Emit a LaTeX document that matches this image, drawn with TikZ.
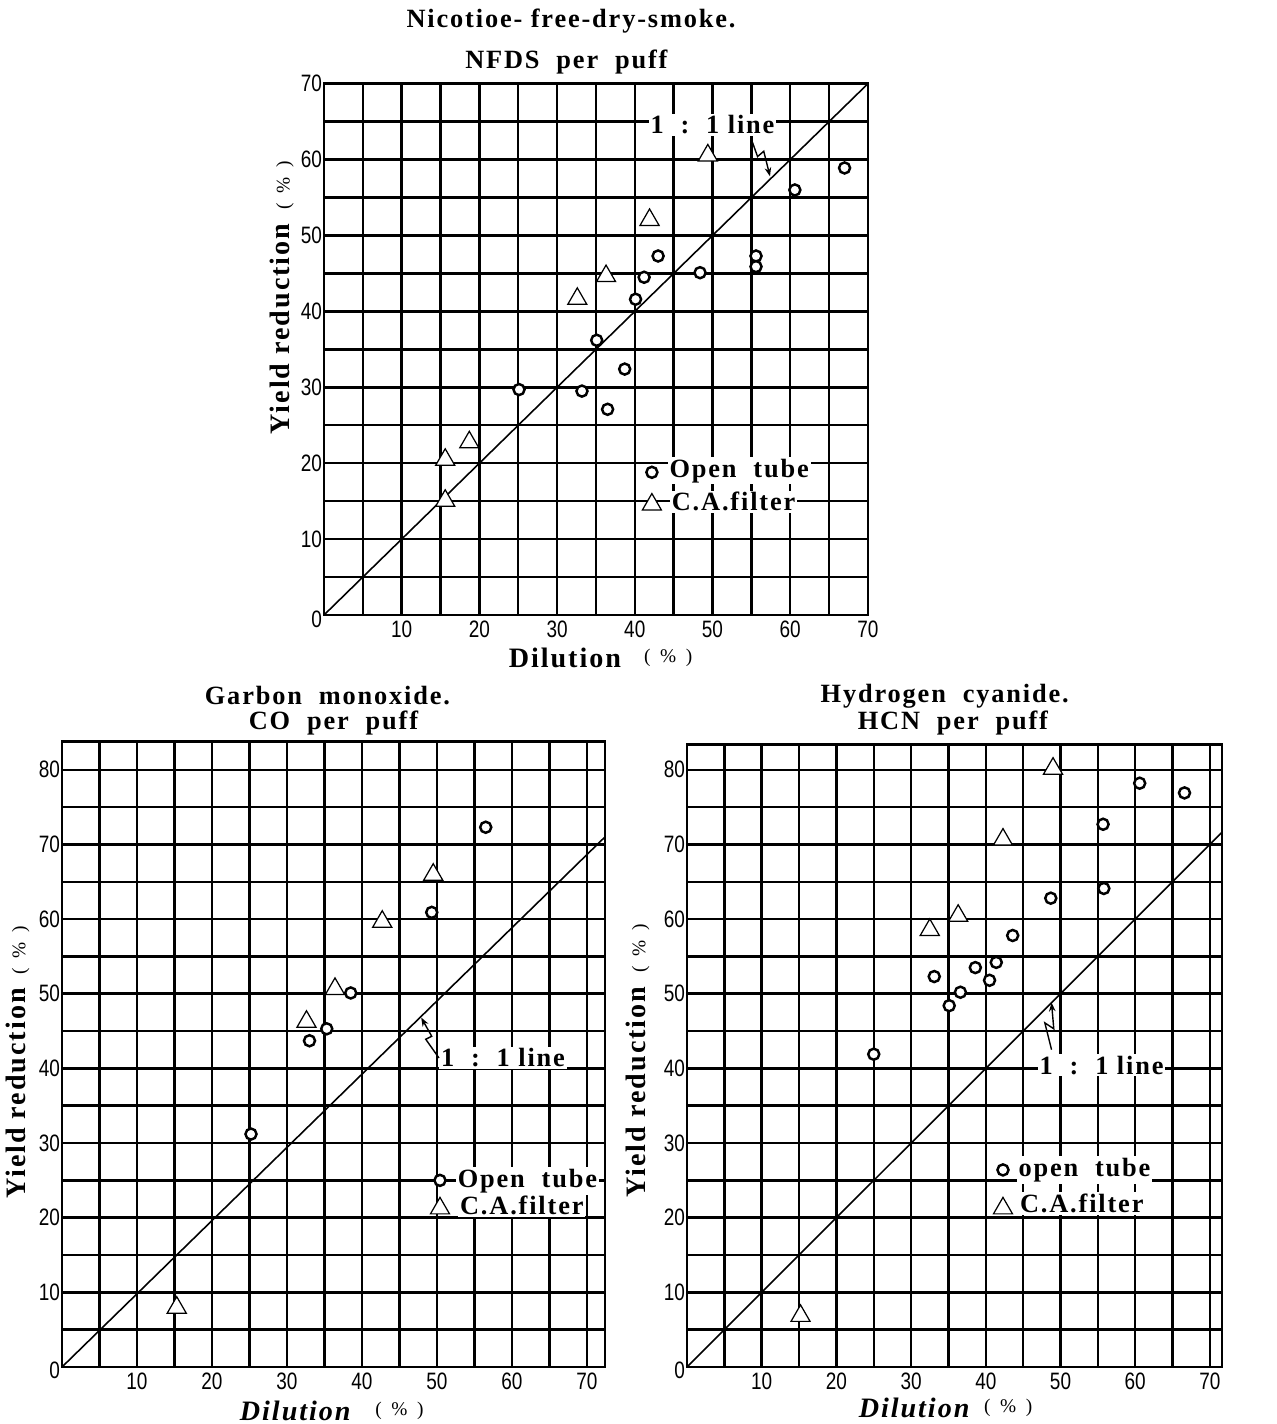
\documentclass[tikz,border=0pt]{standalone}
\usepackage{fontspec}
\setmainfont{Liberation Serif}
\newfontfamily\tickfont[FakeStretch=0.8]{Liberation Sans}
\newfontfamily\lblfont[LetterSpace=7]{Liberation Serif}
\usetikzlibrary{shapes.geometric,arrows.meta}

\tikzset{
  gridline/.style={black, line width=1.4pt},
  oneline/.style={black, line width=0.9pt},
  opentube/.style={circle, draw, line width=1.4pt, fill=white, inner sep=0pt, minimum size=6.3pt},
  cafilter/.style={regular polygon, regular polygon sides=3, draw, line width=0.7pt, fill=white, inner sep=0pt, minimum size=0.44cm, yshift=-1.5pt},
  tick/.style={font=\tickfont\fontsize{13.5}{14}\selectfont, inner sep=1pt},
  lbl/.style={font=\lblfont\bfseries\fontsize{15}{17}\selectfont, fill=white, inner sep=1pt},
  ttl/.style={font=\lblfont\bfseries\fontsize{15}{17}\selectfont, inner sep=0pt},
  axlbl/.style={font=\lblfont\bfseries\fontsize{16}{18}\selectfont, inner sep=0pt},
  pct/.style={font=\fontsize{11}{12}\selectfont, inner sep=0pt},
  zig/.style={line width=0.8pt, -{Stealth[length=5pt]}}
}

\begin{document}
\begin{tikzpicture}
\useasboundingbox (0,0) rectangle (25.54,28.48);

% NFDS per puff
\begin{scope}[shift={(6.48,16.18)}, xscale=0.1554, yscale=0.1518]
\foreach \g in {5,10,...,65} {
  \draw[gridline] (\g,0) -- (\g,70);
  \draw[gridline] (0,\g) -- (70,\g);
}
\draw[gridline] (0,0) rectangle (70,70);
\draw[oneline] (0,0) -- (70,70);
\node[tick, anchor=east] (ay0) at (0,-0.6) {0};
\foreach \v in {10,20,...,70} {
  \node[tick, anchor=east] (ay\v) at (0,\v) {\v};
  \node[tick, anchor=north] (ax\v) at (\v,-0.5) {\v};
}
\node[ttl] (at1) at (31.8,78.3) {Nicotioe- free-dry-smoke.};
\node[ttl] (at2) at (31.2,72.8) {NFDS\ \ per\ \ puff};
\node[axlbl] (axl) at (31.0,-5.6) {Dilution};
\node[pct] (axp) at (44.3,-5.6) {(\ \ \%\ \ )};
\node[axlbl, rotate=90] (ayl) at (-5.4,41.8) {Yield reduction\enspace{\normalfont\fontsize{11}{12}\selectfont(\ \ \%\ \ )}};
% 1:1 line label
\node[lbl] (ar) at (50.0,64.6) {1\ \ :\ \ 1 line};
\coordinate (artip) at (57.4,57.8);
\draw[zig] (55.1,62.4) -- (55.8,60.4) -- (56.6,61.1) -- (artip);
% legend
\node[lbl, anchor=west] (ak1) at (44.2,19.0) {Open\ \ tube};
\node[lbl, anchor=west] (ak2) at (44.5,14.9) {C.A.filter};
\node[opentube] (ako) at (42.2,18.8) {};
\node[cafilter] (akt) at (42.2,14.9) {};
% data
\foreach \x/\y [count=\i] in {25.1/29.7, 33.2/29.5, 36.5/27.1, 35.1/36.2, 38.7/32.4,
  40.1/41.6, 41.2/44.5, 43.0/47.3, 48.4/45.1, 55.6/47.3, 55.6/45.9, 60.6/56.0, 67.0/58.9}
  \node[opentube] (ao\i) at (\x,\y) {};
\foreach \x/\y [count=\i] in {15.6/15.4, 15.6/20.8, 18.7/23.1, 32.6/42.0, 36.3/45.0,
  41.9/52.4, 49.4/60.9}
  \node[cafilter] (at\i) at (\x,\y) {};
\end{scope}

% CO per puff
\begin{scope}[shift={(1.24,1.14)}, xscale=0.15, yscale=0.1493]
\foreach \g in {5,10,...,70} \draw[gridline] (\g,0) -- (\g,83.8);
\foreach \g in {5,10,...,80} \draw[gridline] (0,\g) -- (72.4,\g);
\draw[gridline] (0,0) rectangle (72.4,83.8);
\draw[oneline] (0,0) -- (72.4,71);
\node[tick, anchor=east] (by0) at (0,-0.4) {0};
\foreach \v in {10,20,...,80} \node[tick, anchor=east] (by\v) at (0,\v) {\v};
\foreach \v in {10,20,...,70} \node[tick, anchor=north] (bx\v) at (\v,-0.5) {\v};
\node[ttl] (bt1) at (35.4,90.0) {Garbon\ \ monoxide.};
\node[ttl] (bt2) at (36.2,86.2) {CO\ \ per\ \ puff};
\node[axlbl, font=\lblfont\bfseries\itshape\fontsize{16}{18}\selectfont] (bxl) at (31.1,-5.9) {Dilution};
\node[pct] (bxp) at (45.0,-5.9) {(\ \ \%\ \ )};
\node[axlbl, rotate=90] (byl) at (-5.9,40.8) {Yield reduction\enspace{\normalfont\fontsize{11}{12}\selectfont(\ \ \%\ \ )}};
% 1:1 line label
\node[lbl] (br) at (58.8,41.4) {1\ \ :\ \ 1 line};
\coordinate (brtip) at (47.9,46.8);
\draw[zig] (br.west) -- (48.5,43.9) -- (49.3,44.3) -- (brtip);
% legend
\node[lbl, anchor=west] (bk1) at (52.5,24.9) {Open\ \ tube};
\node[lbl, anchor=west] (bk2) at (52.8,21.6) {C.A.filter};
\node[opentube] (bko) at (50.4,25.0) {};
\node[cafilter] (bkt) at (50.4,21.6) {};
% data
\foreach \x/\y [count=\i] in {25.2/31.2, 33.0/43.7, 35.3/45.3, 38.5/50.1, 49.3/60.9, 56.5/72.3}
  \node[opentube] (bo\i) at (\x,\y) {};
\foreach \x/\y [count=\i] in {15.3/8.3, 32.6/46.6, 36.4/51.0, 42.7/60.0, 49.5/66.3}
  \node[cafilter] (bt\i) at (\x,\y) {};
\end{scope}

% HCN per puff
\begin{scope}[shift={(13.74,1.14)}, xscale=0.1494, yscale=0.1493]
\foreach \g in {5,10,...,70} \draw[gridline] (\g,0) -- (\g,83.4);
\foreach \g in {5,10,...,80} \draw[gridline] (0,\g) -- (71.6,\g);
\draw[gridline] (0,0) rectangle (71.6,83.4);
\draw[oneline] (0,0) -- (71.6,71.6);
\node[tick, anchor=east] (cy0) at (0,-0.4) {0};
\foreach \v in {10,20,...,80} \node[tick, anchor=east] (cy\v) at (0,\v) {\v};
\foreach \v in {10,20,...,70} \node[tick, anchor=north] (cx\v) at (\v,-0.5) {\v};
\node[ttl] (ct1) at (34.5,89.8) {Hydrogen\ \ cyanide.};
\node[ttl] (ct2) at (35.6,86.2) {HCN\ \ per\ \ puff};
\node[axlbl, font=\lblfont\bfseries\itshape\fontsize{16}{18}\selectfont] (cxl) at (30.4,-5.5) {Dilution};
\node[pct] (cxp) at (43.0,-5.5) {(\ \ \%\ \ )};
\node[axlbl, rotate=90] (cyl) at (-6.6,41.0) {Yield reduction\enspace{\normalfont\fontsize{11}{12}\selectfont(\ \ \%\ \ )}};
% 1:1 line label
\node[lbl] (cr) at (55.5,40.4) {1\ \ :\ \ 1 line};
\coordinate (crtip) at (48.8,48.8);
\draw[zig] (48.8,42.5) -- (47.9,46.1) -- (49.1,45.3) -- (crtip);
% legend
\node[lbl, anchor=west] (ck1) at (44.1,26.4) {open\ \ tube};
\node[lbl, anchor=west] (ck2) at (44.3,21.9) {C.A.filter};
\node[opentube] (cko) at (42.3,26.4) {};
\node[cafilter] (ckt) at (42.3,21.6) {};
% data
\foreach \x/\y [count=\i] in {25.0/41.9, 33.1/52.3, 35.1/48.4, 36.6/50.2, 38.6/53.5,
  40.5/51.8, 41.4/54.2, 43.6/57.8, 48.7/62.8, 55.7/72.7, 55.8/64.1, 60.6/78.2, 66.6/76.9}
  \node[opentube] (co\i) at (\x,\y) {};
\foreach \x/\y [count=\i] in {15.2/7.2, 32.5/58.9, 36.3/60.8, 42.3/71.0, 49.0/80.5}
  \node[cafilter] (ct\i) at (\x,\y) {};
\end{scope}
\end{tikzpicture}
\end{document}
